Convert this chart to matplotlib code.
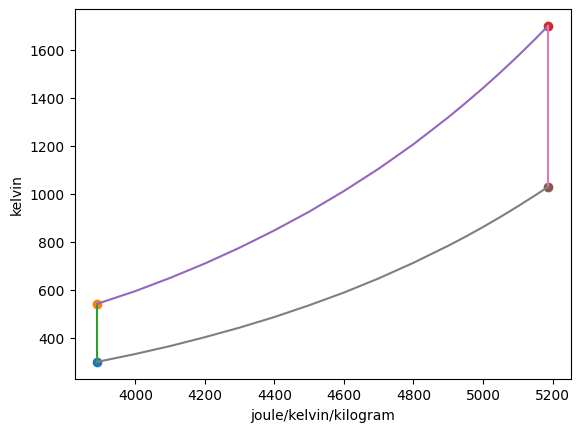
import matplotlib
matplotlib.use("Agg")
import matplotlib.pyplot as plt

# cycle states (entropy in J/K/kg, temperature in K)
s_states = [3890, 3890, 5187, 5187]
T_states = [300, 542, 1700, 1029]

# heating curve 2 -> 3
s_heat = [3890, 4000, 4100, 4200, 4300, 4400, 4500, 4600, 4700, 4800, 4900, 4950, 5000, 5050, 5100, 5150, 5187]
T_heat = [542, 595, 650, 710, 776, 848, 926, 1012, 1105, 1207, 1319, 1379, 1441, 1506, 1574, 1645, 1700]

# cooling curve 4 -> 1
s_cool = [5187, 5150, 5100, 5050, 5000, 4950, 4900, 4800, 4700, 4600, 4500, 4400, 4300, 4200, 4100, 4000, 3890]
T_cool = [1029, 994, 948, 904, 862, 822, 784, 713, 648, 589, 536, 487, 443, 403, 366, 333, 300]

fig, ax = plt.subplots(figsize=(6.4, 4.8), dpi=100)

# one colour per artist, in drawing order, like the default cycle
ax.scatter(s_states[0], T_states[0], color="C0")
ax.scatter(s_states[1], T_states[1], color="C1")
ax.plot(s_states[0:2], T_states[0:2], color="C2")
ax.scatter(s_states[2], T_states[2], color="C3")
ax.plot(s_heat, T_heat, color="C4")
ax.scatter(s_states[3], T_states[3], color="C5")
ax.plot(s_states[2:4], T_states[2:4], color="C6")
ax.plot(s_cool, T_cool, color="C7")

ax.set_xlabel("joule/kelvin/kilogram")
ax.set_ylabel("kelvin")

fig.savefig("out.png", bbox_inches="tight")
